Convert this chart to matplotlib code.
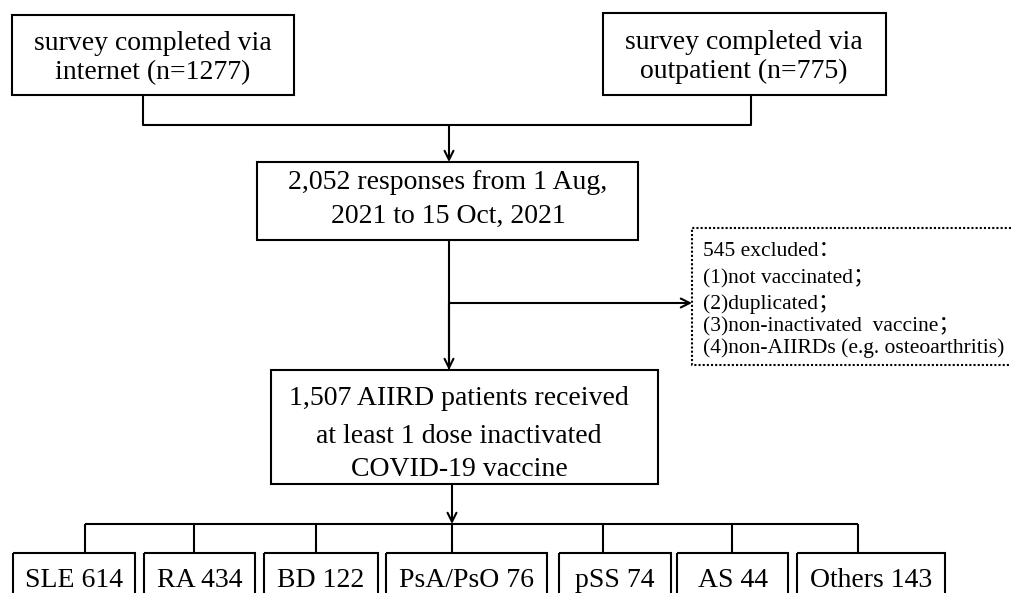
import matplotlib.pyplot as plt
from matplotlib.patches import Rectangle

plt.rcParams['font.family'] = ['Liberation Serif', 'Noto Sans CJK SC', 'DejaVu Serif']

# flow counts
sources = ['internet', 'outpatient']
source_n = [1277, 775]
total_responses = '2,052'
period = ('1 Aug,', '2021 to 15 Oct, 2021')
excluded_n = 545
exclusion_reasons = ['not vaccinated；', 'duplicated；', 'non-inactivated  vaccine；',
                     'non-AIIRDs (e.g. osteoarthritis)']
included_n = '1,507'
diseases = ['SLE', 'RA', 'BD', 'PsA/PsO', 'pSS', 'AS', 'Others']
disease_n = [614, 434, 122, 76, 74, 44, 143]

W, H = 1011, 593
fig = plt.figure(figsize=(W / 100, H / 100), dpi=100)
ax = fig.add_axes([0, 0, 1, 1])
ax.set_xlim(0, W)
ax.set_ylim(H, 0)
ax.axis('off')

LW = 1.5
FS = 20
SMALL = 15.5


def box(x0, y0, x1, y1, ls='-'):
    ax.add_patch(Rectangle((x0, y0), x1 - x0, y1 - y0, fill=False,
                           ec='black', lw=LW, ls=ls, joinstyle='miter'))


def lines(xc, baselines, texts, fs=FS, ha='center'):
    for y, t in zip(baselines, texts):
        ax.text(xc, y, t, ha=ha, va='baseline', fontsize=fs, color='black')


def seg(xs, ys):
    ax.plot(xs, ys, color='black', lw=LW, solid_capstyle='butt')


def arrow(x0, y0, x1, y1):
    ax.annotate('', xy=(x1, y1), xytext=(x0, y0),
                arrowprops=dict(arrowstyle='->', color='black', lw=LW,
                                mutation_scale=16, shrinkA=0, shrinkB=0))


# source boxes
box(12, 15, 294, 95)
lines(153, [50, 79], ['survey completed via', 'internet (n=%d)' % source_n[0]])
box(603, 13, 886, 95)
lines(744, [49, 78], ['survey completed via', 'outpatient (n=%d)' % source_n[1]])

# merge
seg([143, 143, 751, 751], [95, 125, 125, 95])
arrow(449, 125, 449, 162)

# responses box
box(257, 162, 638, 240)
lines(448, [189, 223], ['%s responses from %s' % (total_responses, period[0]), period[1]])

# exclusion
seg([449, 449], [240, 370])
arrow(449, 303, 692, 303)
ax.plot([1011, 692, 692, 1011], [228, 228, 365, 365], color='black', lw=LW,
        ls=(0, (1, 1)))
lines(703, [256, 283, 309, 331, 353],
      ['%d excluded：' % excluded_n] +
      ['(%d)%s' % (i + 1, r) for i, r in enumerate(exclusion_reasons)],
      fs=SMALL, ha='left')
arrow(449, 303, 449, 370)

# included box
box(271, 370, 658, 484)
lines(459, [405, 443, 476],
      ['%s AIIRD patients received' % included_n, 'at least 1 dose inactivated',
       'COVID-19 vaccine'])

# disease breakdown
arrow(452, 484, 452, 524)
drops = [85, 194, 316, 452, 603, 732, 858]
edges = [(13, 135), (144, 255), (264, 378), (386, 547), (559, 671), (677, 788), (797, 945)]
seg([drops[0], drops[-1]], [524, 524])
for d, (x0, x1), name, n in zip(drops, edges, diseases, disease_n):
    seg([d, d], [524, 553])
    box(x0, 553, x1, 610)
    ax.text((x0 + x1) / 2, 587, '%s %d' % (name, n), ha='center', va='baseline',
            fontsize=FS, color='black')

fig.savefig('out.png', dpi=100)
